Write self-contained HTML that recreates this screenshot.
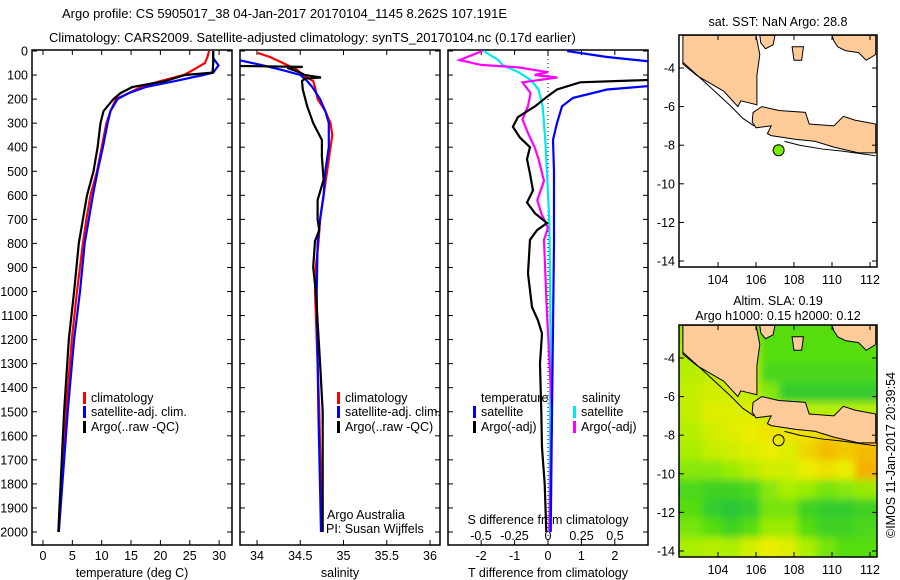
<!DOCTYPE html>
<html><head><meta charset="utf-8">
<style>
html,body{margin:0;padding:0;background:#fff;}
svg{display:block;font-family:"Liberation Sans",sans-serif;}
text{font-size:12.5px;fill:#000;}
</style></head>
<body>
<svg id="chart" width="900" height="580" viewBox="0 0 900 580" xmlns="http://www.w3.org/2000/svg">
<defs>
<clipPath id="c1"><rect x="32" y="50" width="200" height="495"/></clipPath>
<clipPath id="c2"><rect x="240" y="50" width="200" height="495"/></clipPath>
<clipPath id="c3"><rect x="448" y="50" width="200" height="495"/></clipPath>
<clipPath id="cm1"><rect x="679" y="35" width="198" height="232"/></clipPath>
<clipPath id="cm2"><rect x="679" y="325" width="198" height="232"/></clipPath>
<filter id="blur"><feGaussianBlur stdDeviation="4"/></filter>
</defs>
<text x="62" y="18" style="font-size:13px">Argo profile: CS 5905017_38 04-Jan-2017 20170104_1145 8.262S 107.191E</text>
<text x="49" y="42" style="font-size:13px">Climatology: CARS2009. Satellite-adjusted climatology: synTS_20170104.nc (0.17d earlier)</text>
<g id="g"></g>
</svg>
<script>
// ---- data ----
const yTicks=[0,100,200,300,400,500,600,700,800,900,1000,1100,1200,1300,1400,1500,1600,1700,1800,1900,2000];
const tTicks=[0,5,10,15,20,25,30];
const sTicks=[34,34.5,35,35.5,36];
const dtTicks=[-2,-1,0,1,2];
const dsTicks=[-0.5,-0.25,0,0.25,0.5];
const dsTickLabels=["-0.5","-0.25","0","0.25","0.5"];

const tClimDepth=[0,25,50,80,100,125,150,175,200,250,300,400,500,600,700,800,1000,1200,1500,2000];
const tClim=[28.3,28.0,27.6,25.5,24,20,16.6,14.6,12.4,11.5,10.8,10,9.2,8.1,7.4,6.8,5.8,4.9,3.9,2.7];
const tSatDepth=[0,30,60,90,100,125,150,175,200,250,300,400,500,600,700,800,1000,1200,1500,2000];
const tSat=[29,29,29.9,29,27.3,22.5,17.5,14.6,12.7,11.5,11,10.2,9.3,8.5,7.8,7.1,6.3,5.3,4.2,2.7];
const tArgoDepth=[0,50,90,100,125,150,175,200,250,300,400,500,600,700,800,1000,1200,1500,2000];
const tArgo=[29,29,28.9,24.2,20.8,15.2,13.2,12,10.3,9.8,9.3,8.6,7.5,6.8,6.1,5.3,4.4,3.6,2.6];

const sClimDepth=[8,25,50,80,100,125,150,200,250,300,350,400,500,600,700,800,900,1000,1500,2000];
const sClim=[34.01,34.15,34.3,34.47,34.53,34.65,34.67,34.7,34.79,34.85,34.87,34.85,34.81,34.77,34.73,34.71,34.68,34.67,34.72,34.75];
const sSatDepth=[35,60,80,100,125,150,200,250,300,400,500,600,700,800,1000,1500,2000];
const sSat=[33.75,34.07,34.3,34.5,34.58,34.64,34.73,34.79,34.83,34.83,34.79,34.77,34.73,34.7,34.69,34.71,34.74];
const sArgoDepth=[62,66,70,90,100,110,115,125,160,230,300,370,440,535,620,700,745,790,900,1000,1300,1500,2000];
const sArgo=[33.75,34.53,34.35,34.5,34.55,34.74,34.55,34.52,34.53,34.58,34.65,34.75,34.75,34.77,34.7,34.7,34.72,34.67,34.65,34.68,34.73,34.76,34.76];

const dtSatDepth=[0,25,50,140,160,195,230,300,370,500,800,1500,2000];
const dtSat=[0.57,1.77,3.5,3.5,1.77,0.75,0.42,0.27,0.15,0.18,0.18,0.12,0.08];
const dtArgoDepth=[112,118,130,160,190,230,275,315,360,400,450,510,580,630,675,715,745,785,925,1065,1120,1175,1300,1500,1650,1800,2000];
const dtArgo=[3.5,3.5,0.96,0.27,-0.03,-0.39,-0.9,-1.05,-0.84,-0.54,-0.63,-0.54,-0.45,-0.63,-0.39,-0.03,-0.33,-0.54,-0.6,-0.48,-0.3,-0.18,-0.24,-0.2,-0.18,-0.1,-0.05];
const dsSatDepth=[0,38,58,88,120,160,230,370,700,1200,2000];
const dsSat=[-0.48,-0.37,-0.34,-0.22,-0.13,-0.07,-0.04,-0.02,0.01,0.02,0.01];
const dsArgoDepth=[0,38,58,68,88,100,110,130,175,230,285,340,400,450,540,620,675,735,785,1065,1500,2000];
const dsArgo=[-0.49,-0.66,-0.5,-0.22,0,-0.1,0.07,-0.19,-0.13,-0.15,-0.19,-0.15,-0.1,-0.07,-0.03,-0.08,-0.05,0,-0.03,-0.01,0.03,0.01];

// SLA grid rows lat -2.3..-14.3 (1 deg), cols lon 102.2..112.2
const slaGrid=[
[.14,.14,.14,.13,.1,.1,.1,.1,.1,.1],
[.16,.16,.16,.15,.1,.1,.1,.1,.1,.1],
[.16,.17,.17,.16,.09,.09,.09,.09,.09,.09],
[.17,.18,.18,.17,.13,.07,.07,.07,.07,.07],
[.17,.19,.19,.19,.17,.16,.16,.16,.16,.16],
[.16,.18,.19,.2,.21,.21,.21,.22,.22,.23],
[.15,.17,.18,.19,.2,.19,.22,.24,.23,.24],
[.13,.13,.14,.16,.18,.18,.2,.21,.2,.25],
[.09,.08,.08,.09,.13,.15,.14,.12,.13,.14],
[.1,.07,.06,.07,.12,.12,.08,.07,.07,.08],
[.12,.1,.08,.1,.14,.14,.1,.08,.08,.09],
[.15,.16,.15,.18,.2,.19,.15,.12,.1,.1]];
const latTicks=[-4,-6,-8,-10,-12,-14];
const lonTicks=[104,106,108,110,112];
const argoLon=107.19, argoLat=-8.262;

const sumatra=[[102.15,-2.3],[106.0,-2.3],[106.2,-3.3],[106.05,-4.4],[106.05,-5.9],[105.6,-5.8],[105.2,-5.7],[105.05,-6.0],[104.3,-5.2],[103.6,-4.8],[102.9,-4.4],[102.15,-3.8]];
const java=[[105.85,-6.3],[106.3,-6.0],[107.2,-6.2],[108.6,-6.3],[108.8,-6.9],[110.1,-7.0],[110.6,-6.5],[111.2,-6.7],[112.3,-6.9],[112.3,-8.4],[111.4,-8.4],[110.1,-8.1],[109.1,-7.8],[108.1,-7.7],[106.8,-7.5],[106.6,-7.4],[106.8,-7.0],[106.0,-7.1],[105.8,-6.8]];
const borneo=[[110.0,-2.3],[112.3,-2.3],[112.3,-3.3],[111.8,-3.6],[111.4,-3.2],[110.7,-3.1],[110.3,-2.9],[110.1,-2.6]];
const isle1=[[106.2,-2.3],[107.0,-2.3],[106.9,-2.8],[106.5,-3.0],[106.25,-2.7]];
const isle2=[[107.9,-2.9],[108.5,-2.9],[108.4,-3.6],[108.0,-3.6]];

// ---- helpers ----
const NS="http://www.w3.org/2000/svg";
const G=document.getElementById('g');
function el(tag,attrs,parent){const e=document.createElementNS(NS,tag);for(const k in attrs)e.setAttribute(k,attrs[k]);(parent||G).appendChild(e);return e;}
const yD=d=>51+d*0.2405;
const panels=[
 {x0:32,clip:'c1',xs:v=>43+v*5.87},
 {x0:240,clip:'c2',xs:v=>257+(v-34)*86.5},
 {x0:448,clip:'c3',xs:v=>548+v*33.4}];
const xsS=v=>548+v*134;

function line(depths,vals,xs,color,clip,name,w){
  let pts=depths.map((d,i)=>xs(vals[i]).toFixed(1)+','+yD(d).toFixed(1)).join(' ');
  const p=el('polyline',{points:pts,fill:'none',stroke:color,'stroke-width':w||2.2,'clip-path':'url(#'+clip+')'});
  
  
}

panels.forEach((P,pi)=>{
  const f=el('rect',{x:P.x0,y:50,width:200,height:495,fill:'none',stroke:'#000','stroke-width':1.5});
  
  
  yTicks.forEach(d=>{
    el('line',{x1:P.x0,x2:P.x0+5,y1:yD(d),y2:yD(d),stroke:'#000'});
    el('line',{x1:P.x0+200,x2:P.x0+195,y1:yD(d),y2:yD(d),stroke:'#000'});
  });
});
yTicks.forEach(d=>{
  const t=el('text',{x:28,y:yD(d)+4.5,'text-anchor':'end'});t.textContent=d;
  
  
});
function xTicks(ticks,xs,labels,yl,top,bottom,name){
  ticks.forEach((v,i)=>{
    const x=xs(v);
    if(top)el('line',{x1:x,x2:x,y1:50,y2:55,stroke:'#000'});
    if(bottom)el('line',{x1:x,x2:x,y1:545,y2:540,stroke:'#000'});
    const t=el('text',{x:x,y:yl,'text-anchor':'middle'});t.textContent=labels?labels[i]:v;
    
    
  });
}
xTicks(tTicks,panels[0].xs,null,560,true,true,'temperature-tick-label');
xTicks(sTicks,panels[1].xs,null,560,true,true,'salinity-tick-label');
xTicks(dtTicks,panels[2].xs,null,560,true,true,'t-diff-tick-label');
xTicks(dsTicks,xsS,dsTickLabels,540,false,false,'s-diff-tick-label');

function label(x,y,txt,name,anchor){const t=el('text',{x:x,y:y,'text-anchor':anchor||'middle'});t.textContent=txt;return t;}
label(132,577,'temperature (deg C)','x-axis-title-temperature');
label(340,577,'salinity','x-axis-title-salinity');
label(548,577,'T difference from climatology','x-axis-title-t-diff');
label(548,524,'S difference from climatology','x-axis-title-s-diff');
label(327,519,'Argo Australia','credit-argo-australia','start');
label(326,533,'PI: Susan Wijffels','credit-pi','start');

el('line',{x1:548,x2:548,y1:51,y2:545,stroke:'#000','stroke-dasharray':'1,3','stroke-width':1});

line(tClimDepth,tClim,panels[0].xs,'#ff0000','c1','temperature-climatology-line');
line(tSatDepth,tSat,panels[0].xs,'#0000ff','c1','temperature-satellite-line');
line(tArgoDepth,tArgo,panels[0].xs,'#000000','c1','temperature-argo-line');
line(sClimDepth,sClim,panels[1].xs,'#ff0000','c2','salinity-climatology-line');
line(sSatDepth,sSat,panels[1].xs,'#0000ff','c2','salinity-satellite-line');
line(sArgoDepth,sArgo,panels[1].xs,'#000000','c2','salinity-argo-line');
line(dsSatDepth,dsSat,xsS,'#00e8f0','c3','s-diff-satellite-line');
line(dsArgoDepth,dsArgo,xsS,'#ff00ff','c3','s-diff-argo-line');
line(dtSatDepth,dtSat,panels[2].xs,'#0000ff','c3','t-diff-satellite-line');
line(dtArgoDepth,dtArgo,panels[2].xs,'#000000','c3','t-diff-argo-line');

function leg(x,y,color,txt,name){
  const b=el('rect',{x:x,y:y-10,width:3,height:12,fill:color});
  
  
  label(x+8,y,txt,name,'start');
}
const l1y=[402,416,431];
leg(83,l1y[0],'#ff0000','climatology','legend-climatology');
leg(83,l1y[1],'#0000ff','satellite-adj. clim.','legend-satellite-adj');
leg(83,l1y[2],'#000000','Argo(..raw -QC)','legend-argo');
leg(337,l1y[0],'#ff0000','climatology','legend-climatology-2');
leg(337,l1y[1],'#0000ff','satellite-adj. clim.','legend-satellite-adj-2');
leg(337,l1y[2],'#000000','Argo(..raw -QC)','legend-argo-2');
label(481,402,'temperature','legend-title-temperature','start');
label(582,402,'salinity','legend-title-salinity','start');
leg(473,416,'#0000ff','satellite','legend-t-satellite');
leg(473,431,'#000000','Argo(-adj)','legend-t-argo');
leg(573,416,'#00e8f0','satellite','legend-s-satellite');
leg(573,431,'#ff00ff','Argo(-adj)','legend-s-argo');

const lonX=lon=>718+(lon-104)*19;
function latY(lat,off){return 68+off+(-4-lat)*19.3;}
function slaColor(v){
  const stops=[[0.05,[34,192,64]],[0.1,[85,221,17]],[0.15,[170,238,0]],[0.2,[235,238,0]],[0.25,[245,176,0]]];
  if(v<=stops[0][0])return 'rgb('+stops[0][1]+')';
  for(let i=1;i<stops.length;i++){if(v<=stops[i][0]){const a=stops[i-1],b=stops[i],t=(v-a[0])/(b[0]-a[0]);return 'rgb('+a[1].map((c,k)=>Math.round(c+(b[1][k]-c)*t)).join(',')+')';}}
  return 'rgb('+stops[4][1]+')';
}
function drawMap(off,clip,title1,title2,heat,mi){
  const mg=el('g',{'clip-path':'url(#'+clip+')'});
  
  
  el('rect',{x:679,y:35+off,width:198,height:232,fill:heat?slaColor(0.12):'#fff'},mg);
  if(heat){
    const hg=el('g',{filter:'url(#blur)'},mg);
    slaGrid.forEach((row,r)=>row.forEach((v,c)=>{
      const lat=-2.3-r,lon=102.2+c;
      const cell=el('rect',{x:lonX(lon)-(c==0?10:0),y:latY(lat,off)-(r==0?10:0),width:19.5+(c==0||c==9?10:0),height:19.8+(r==0||r==11?10:0),fill:slaColor(v)},hg);
      
      
    }));
  }
  [sumatra,java,borneo,isle1,isle2].forEach((poly,i)=>{
    const p=el('polygon',{points:poly.map(q=>lonX(q[0]).toFixed(1)+','+latY(q[1],off).toFixed(1)).join(' '),fill:'#ffcc99',stroke:'#000','stroke-width':1},mg);
    
    
  });
  el('polyline',{points:[[102.15,-3.7],[103.6,-5.0],[104.7,-6.0],[105.3,-6.6],[105.9,-7.0]].map(q=>lonX(q[0])+','+latY(q[1],off)).join(' '),fill:'none',stroke:'#000','stroke-width':1},mg);
  el('polyline',{points:[[107.5,-7.8],[108.3,-8.0],[109.5,-8.2],[110.5,-8.3],[112.3,-8.55]].map(q=>lonX(q[0])+','+latY(q[1],off)).join(' '),fill:'none',stroke:'#000','stroke-width':1},mg);
  const pt=el('circle',{cx:lonX(argoLon),cy:latY(argoLat,off),r:5.5,fill:heat?'none':'#77ee00',stroke:'#000','stroke-width':1});
  
  
  const fr=el('rect',{x:679,y:35+off,width:198,height:232,fill:'none',stroke:'#000','stroke-width':1.5});
  
  
  latTicks.forEach(l=>{el('line',{x1:679,x2:684,y1:latY(l,off),y2:latY(l,off),stroke:'#000'});el('line',{x1:877,x2:872,y1:latY(l,off),y2:latY(l,off),stroke:'#000'});
    label(675,latY(l,off)+4.5,l,'map-lat-tick-label','end');});
  lonTicks.forEach(l=>{el('line',{x1:lonX(l),x2:lonX(l),y1:35+off,y2:40+off,stroke:'#000'});el('line',{x1:lonX(l),x2:lonX(l),y1:267+off,y2:262+off,stroke:'#000'});
    label(lonX(l),284+off,l,'map-lon-tick-label');});
  if(title1)label(778,off==0?26:305,title1,'map-title-'+mi);
  if(title2)label(778,320,title2,'map-subtitle-'+mi);
}
drawMap(0,'cm1','sat. SST: NaN Argo: 28.8',null,false,1);
drawMap(290,'cm2','Altim. SLA: 0.19','Argo h1000: 0.15 h2000: 0.12',true,2);
const cr=label(0,0,'©IMOS 11-Jan-2017 20:39:54','timestamp-credit');
cr.setAttribute('transform','translate(895,455) rotate(-90)');
</script>
</body></html>
